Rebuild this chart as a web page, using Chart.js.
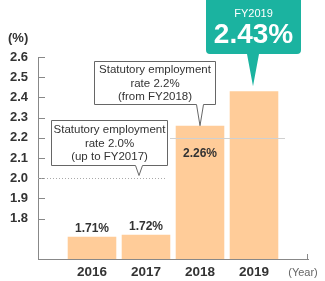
<!DOCTYPE html>
<html>
<head>
<meta charset="utf-8">
<script src="https://cdn.jsdelivr.net/npm/chart.js@4"></script>
<style>
    html, body { margin: 0; padding: 0; background: #fff; }
    #wrap { width: 325px; height: 281px; }
</style>
</head>
<body>
<div id="wrap"><canvas id="rateChart"></canvas></div>
<script>
// Chart data
const years = ["", "2016", "2017", "2018", "2019", ""];
const rates = [null, 1.71, 1.72, 2.26, 2.43, null];
const yTickValues = [1.8, 1.9, 2.0, 2.1, 2.2, 2.3, 2.4, 2.5, 2.6];
const oldStatutoryRate = 2.0;
const newStatutoryRate = 2.2;
const oldRateLines = ["Statutory employment", "rate 2.0%", "(up to FY2017)"];
const newRateLines = ["Statutory employment", "rate 2.2%", "(from FY2018)"];

const FONT = "'Liberation Sans', Arial, sans-serif";
const BAR_COLOR = "#ffcc99";
const TEAL = "#1bb3a0";
const TEXT = "#333";

Chart.defaults.font.family = FONT;

// Draw a box with a pointer at the bottom
function drawCallout(ctx, box, tipX, tipY, half, fill, stroke, radius) {
    const r = radius || 0;
    const b = box.y + box.h;
    ctx.beginPath();
    ctx.moveTo(box.x + r, box.y);
    ctx.lineTo(box.x + box.w - r, box.y);
    ctx.quadraticCurveTo(box.x + box.w, box.y, box.x + box.w, box.y + r);
    ctx.lineTo(box.x + box.w, b - r);
    ctx.quadraticCurveTo(box.x + box.w, b, box.x + box.w - r, b);
    ctx.lineTo(tipX + half, b);
    ctx.lineTo(tipX, tipY);
    ctx.lineTo(tipX - half, b);
    ctx.lineTo(box.x + r, b);
    ctx.quadraticCurveTo(box.x, b, box.x, b - r);
    ctx.lineTo(box.x, box.y + r);
    ctx.quadraticCurveTo(box.x, box.y, box.x + r, box.y);
    ctx.closePath();
    ctx.fillStyle = fill;
    ctx.fill();
    if (stroke) {
        ctx.strokeStyle = stroke;
        ctx.lineWidth = 1;
        ctx.stroke();
    }
}

function drawLines(ctx, lines, cx, firstY, step) {
    lines.forEach((line, i) => ctx.fillText(line, cx, firstY + i * step));
}

const extrasPlugin = {
    id: "extras",
    afterDatasetsDraw(chart) {
        const ctx = chart.ctx;
        const x = chart.scales.x;
        const y = chart.scales.y;
        const area = chart.chartArea;
        ctx.save();

        // inward tick marks on the y axis
        ctx.strokeStyle = "#888";
        ctx.lineWidth = 1;
        yTickValues.forEach((v) => {
            const py = Math.round(y.getPixelForValue(v)) + 0.5;
            ctx.beginPath();
            ctx.moveTo(area.left, py);
            ctx.lineTo(area.left + 7, py);
            ctx.stroke();
        });
        // small end mark on the x axis
        ctx.beginPath();
        ctx.moveTo(area.right - 0.5, area.bottom);
        ctx.lineTo(area.right - 0.5, area.bottom - 5);
        ctx.stroke();

        // statutory rate lines
        const y20 = Math.round(y.getPixelForValue(oldStatutoryRate)) + 0.5;
        ctx.strokeStyle = "#aaa";
        ctx.setLineDash([1, 2]);
        ctx.beginPath();
        ctx.moveTo(area.left, y20);
        ctx.lineTo(x.getPixelForValue(2) + 21, y20);
        ctx.stroke();
        ctx.setLineDash([]);
        const y22 = Math.round(y.getPixelForValue(newStatutoryRate)) + 0.5;
        ctx.strokeStyle = "#d0d0d0";
        ctx.beginPath();
        ctx.moveTo(x.getPixelForValue(3) - 30, y22);
        ctx.lineTo(x.getPixelForValue(4) + 31, y22);
        ctx.stroke();

        // value labels
        ctx.fillStyle = TEXT;
        ctx.font = "bold 12px " + FONT;
        ctx.textAlign = "center";
        ctx.textBaseline = "alphabetic";
        rates.forEach((v, i) => {
            if (v === null || i === 4) return;
            const px = x.getPixelForValue(i);
            const top = y.getPixelForValue(v);
            const py = i === 3 ? top + 31 : top - 5;
            ctx.fillText(v.toFixed(2) + "%", px, py);
        });

        // axis units
        ctx.font = "bold 13px " + FONT;
        ctx.textAlign = "left";
        ctx.fillText("(%)", 8, 42);
        ctx.font = "11px " + FONT;
        ctx.fillStyle = "#666";
        ctx.textAlign = "center";
        ctx.fillText("(Year)", 303, 276);

        // callout for the old statutory rate
        const tip1x = x.getPixelForValue(2) - 7;
        drawCallout(ctx, { x: 51.5, y: 120.5, w: 116, h: 45 }, tip1x, y20 - 3, 3.5, "#fff", "#666");
        ctx.fillStyle = TEXT;
        ctx.font = "11.5px " + FONT;
        ctx.textBaseline = "middle";
        drawLines(ctx, oldRateLines, 109.5, 130, 13.5);

        // callout for the new statutory rate
        const tip2x = x.getPixelForValue(3);
        drawCallout(ctx, { x: 94.5, y: 61.5, w: 121, h: 43 }, tip2x, y.getPixelForValue(rates[3]), 3.5, "#fff", "#666");
        ctx.fillStyle = TEXT;
        drawLines(ctx, newRateLines, 155, 70, 13.5);

        // FY2019 highlight
        const tip3x = x.getPixelForValue(4) - 1;
        drawCallout(ctx, { x: 206, y: -4, w: 95, h: 58 }, tip3x, y.getPixelForValue(rates[4]) - 5, 6, TEAL, null, 4);
        ctx.fillStyle = "#fff";
        ctx.textBaseline = "alphabetic";
        ctx.font = "11px " + FONT;
        ctx.fillText("FY2019", 253.5, 17);
        ctx.font = "bold 28px " + FONT;
        ctx.fillText(rates[4].toFixed(2) + "%", 253.5, 43);

        ctx.restore();
    }
};

const chartConfig = {
    type: "bar",
    data: {
        labels: years,
        datasets: [{
            data: rates,
            backgroundColor: BAR_COLOR,
            borderWidth: 0,
            barPercentage: 0.9,
            categoryPercentage: 1
        }]
    },
    options: {
        responsive: true,
        maintainAspectRatio: false,
        animation: false,
        layout: { padding: { top: 57, right: 17, left: 0, bottom: 0 } },
        plugins: {
            legend: { display: false },
            tooltip: { enabled: false }
        },
        scales: {
            x: {
                type: "category",
                offset: false,
                grid: { drawOnChartArea: false, drawTicks: false },
                border: { color: "#888" },
                ticks: {
                    color: TEXT,
                    font: { size: 13.5, weight: "bold" },
                    padding: 5,
                    autoSkip: false,
                    maxRotation: 0
                },
                afterFit: (scale) => { scale.height = 22; }
            },
            y: {
                min: 1.6,
                max: 2.6,
                grid: { drawOnChartArea: false, drawTicks: false },
                border: { color: "#888" },
                ticks: {
                    stepSize: 0.1,
                    color: TEXT,
                    font: { size: 13, weight: "bold" },
                    padding: 10,
                    callback: (v) => (v >= 1.75 ? v.toFixed(1) : "")
                },
                afterFit: (scale) => { scale.width = 38; }
            }
        }
    },
    plugins: [extrasPlugin]
};

new Chart(document.getElementById("rateChart"), chartConfig);
</script>
</body>
</html>
